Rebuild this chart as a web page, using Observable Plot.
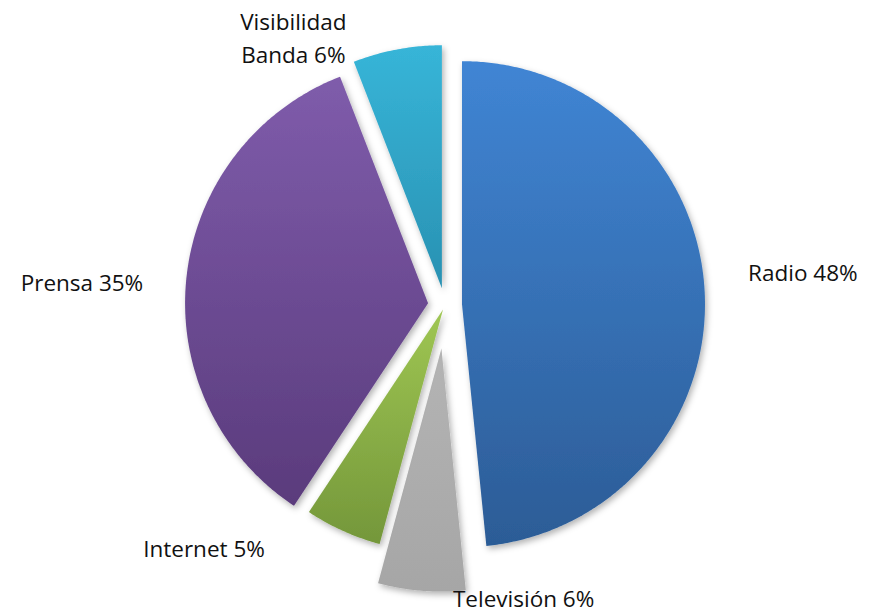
<!DOCTYPE html>
<html>
<head>
<meta charset="utf-8">
<script src="https://cdn.jsdelivr.net/npm/d3@7"></script>
<script src="https://cdn.jsdelivr.net/npm/@observablehq/plot@0.6"></script>
<style>
  html, body { margin: 0; padding: 0; background: #ffffff; }
  #chart svg { display: block; }
</style>
</head>
<body>
<div id="chart"></div>
<script>
// ---- Data ----
const categories = ["Radio", "Televisión", "Internet", "Prensa", "Visibilidad Banda"];
const shares = [48.4, 5.8, 5.1, 34.8, 5.9];

// ---- Styles ----
const topColors    = ["#4085d4", "#b4b4b4", "#9fc653", "#7f5cab", "#37b5d8"];
const bottomColors = ["#2c5c96", "#a6a6a6", "#74973a", "#5a3b7c", "#2991b2"];
const explodeBy = { "Televisión": 0.18, "Internet": 0.02 };   // fraction of radius
const defaultExplode = 0.07;
const labelNudge = {
  "Radio":             { dx: 7,    dy: -20 },
  "Televisión":        { dx: 105,  dy: -31 },
  "Internet":          { dx: -124, dy: -18 },
  "Prensa":            { dx: -7,   dy: 7 },
  "Visibilidad Banda": { dx: -97,  dy: 22 }
};

// ---- Layout ----
const W = 871, H = 615, CX = 444.5, CY = 304.5, R = 243;
const labelRadius = 1.15;

// ---- Geometry (data units: radius = 1) ----
const total = d3.sum(shares);
let acc = 0;
const slices = categories.map((c, i) => {
  const a0 = acc / total * 2 * Math.PI;
  acc += shares[i];
  const a1 = acc / total * 2 * Math.PI;
  const mid = (a0 + a1) / 2;
  const e = explodeBy[c] ?? defaultExplode;
  const ax = e * Math.sin(mid), ay = e * Math.cos(mid);
  const pts = [{x: ax, y: ay}];
  const n = Math.max(8, Math.ceil((a1 - a0) / (Math.PI / 360)));
  for (let k = 0; k <= n; k++) {
    const t = a0 + (a1 - a0) * k / n;
    pts.push({x: ax + Math.sin(t), y: ay + Math.cos(t)});
  }
  pts.push({x: ax, y: ay});
  const s = Math.sin(mid);
  return {
    c, i, mid, pts,
    lx: ax + labelRadius * Math.sin(mid),
    ly: ay + labelRadius * Math.cos(mid),
    anchor: s > 0.5 ? "start" : s < -0.5 ? "end" : "middle",
    label: `${c} ${Math.round(shares[i] / total * 100)}%`
  };
});

const sliceMarks = slices.map(s =>
  Plot.line(s.pts, {x: "x", y: "y", fill: `url(#grad${s.i})`, stroke: "none", curve: "linear"})
);
const labelMarks = slices.map(s =>
  Plot.text([s], {
    x: "lx", y: "ly", text: "label",
    textAnchor: s.anchor,
    dx: labelNudge[s.c].dx, dy: labelNudge[s.c].dy,
    fontSize: 22.5, fontFamily: "Open Sans", fill: "#111111",
    lineWidth: s.c === "Visibilidad Banda" ? 6 : undefined,
    lineHeight: 1.47
  })
);

const svg = Plot.plot({
  width: W, height: H, margin: 0,
  style: {background: "#ffffff", overflow: "visible"},
  x: {domain: [(0 - CX) / R, (W - CX) / R], axis: null},
  y: {domain: [(CY - H) / R, CY / R], axis: null},
  marks: [...sliceMarks, ...labelMarks]
});

// gradients + shadow
const ns = "http://www.w3.org/2000/svg";
const defs = document.createElementNS(ns, "defs");
slices.forEach(s => {
  const g = document.createElementNS(ns, "linearGradient");
  g.setAttribute("id", `grad${s.i}`);
  g.setAttribute("x1", "0"); g.setAttribute("y1", "0");
  g.setAttribute("x2", "0"); g.setAttribute("y2", "1");
  [[0, topColors[s.i]], [1, bottomColors[s.i]]].forEach(([o, col]) => {
    const st = document.createElementNS(ns, "stop");
    st.setAttribute("offset", o);
    st.setAttribute("stop-color", col);
    g.appendChild(st);
  });
  defs.appendChild(g);
});
const f = document.createElementNS(ns, "filter");
f.setAttribute("id", "shadow");
f.setAttribute("x", "-20%"); f.setAttribute("y", "-20%");
f.setAttribute("width", "140%"); f.setAttribute("height", "140%");
f.innerHTML = '<feDropShadow dx="2" dy="3" stdDeviation="3" flood-color="#000" flood-opacity="0.3"/>';
defs.appendChild(f);
svg.insertBefore(defs, svg.firstChild);
svg.querySelectorAll('g[aria-label="line"]').forEach(g => g.setAttribute("filter", "url(#shadow)"));

document.getElementById("chart").appendChild(svg);
</script>
</body>
</html>
